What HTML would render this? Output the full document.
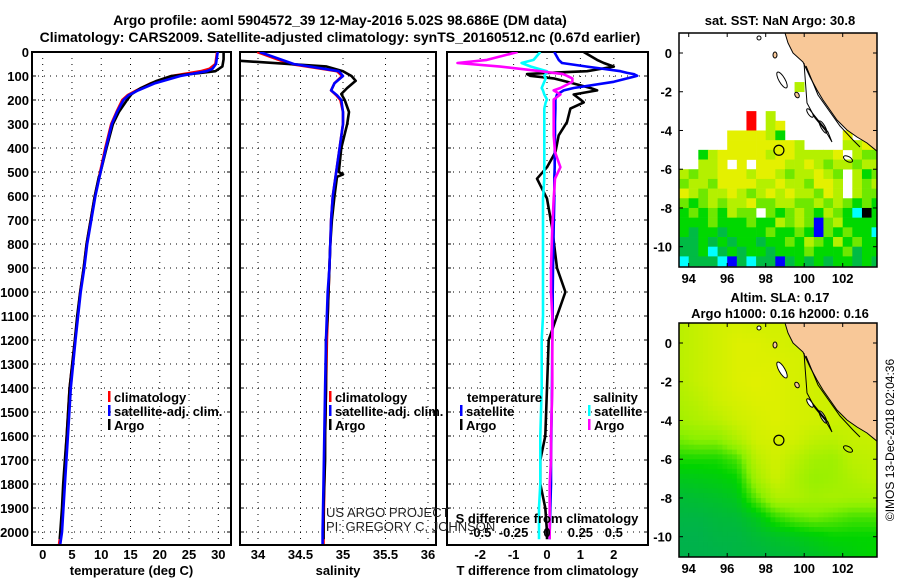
<!DOCTYPE html>
<html><head><meta charset="utf-8">
<style>
html,body{margin:0;padding:0;background:#fff;}
svg{display:block;font-family:"Liberation Sans",sans-serif;}
.b{font-weight:bold;font-size:13px;fill:#000;}
</style></head>
<body>
<svg id="fig" width="900" height="580" viewBox="0 0 900 580" xmlns="http://www.w3.org/2000/svg">
<text class="b" x="340" y="25" text-anchor="middle" style="font-size:14px">Argo profile: aoml 5904572_39 12-May-2016 5.02S 98.686E (DM data)</text>
<text class="b" x="340" y="42" text-anchor="middle" style="font-size:14px">Climatology: CARS2009. Satellite-adjusted climatology: synTS_20160512.nc (0.67d earlier)</text>
<g id="plots"></g>
</svg>
<script>
// ---------- profile data ----------
const depthClim = [0,50,70,80,100,130,160,180,200,250,300,400,500,600,700,800,900,1000,1200,1400,1600,1800,2000,2050];
const tempClim  = [29.8,29.5,28.5,27,22,18.5,16,14.5,13.6,12.6,11.7,10.7,9.8,8.9,8.2,7.5,7.0,6.4,5.5,4.6,4.1,3.6,3.1,2.8];
const tempSat   = [29.9,29.6,29,28,23.5,19.2,16.3,14.7,13.8,12.7,11.8,10.8,9.9,9.0,8.3,7.6,7.1,6.5,5.6,4.8,4.3,3.8,3.3,3.0];
const salClim   = [33.99,34.38,34.75,34.93,34.99,34.9,34.86,34.92,34.97,35.0,35.0,34.96,34.92,34.88,34.86,34.85,34.84,34.83,34.81,34.8,34.79,34.78,34.77,34.77];
const salSat    = [34.02,34.42,34.78,34.95,35.0,34.9,34.86,34.93,34.98,35.0,35.0,34.96,34.92,34.88,34.86,34.85,34.84,34.82,34.8,34.79,34.78,34.77,34.76,34.76];

const depthArgo = [0,30,60,80,90,100,120,150,175,200,250,300,400,500,510,520,600,700,800,900,1000,1100,1200,1400,1600,1700,1800,1900,2000,2030];
const tempArgo  = [30.9,30.9,30.7,29.5,26,22,19.5,16.8,15.2,14.4,13.0,12.0,10.9,9.9,9.8,9.6,8.9,8.2,7.5,7.0,6.4,5.9,5.5,4.6,4.1,3.8,3.5,3.3,3.0,2.9];
const salArgo   = [33.5,33.5,34.8,35.0,35.05,35.1,35.15,35.05,34.98,35.02,35.07,35.05,34.98,34.95,35.0,34.93,34.9,34.87,34.85,34.84,34.83,34.82,34.8,34.8,34.79,34.79,34.78,34.77,34.77,34.77];

const depthDiff = [0,33,46,61,80,87,92,99,110,124,150,160,177,198,210,236,292,347,417,480,528,611,729,900,1000,1100,1200,1400,1600,1700,1800,1900,2000,2030];
const tDiffSat  = [0.22,0.35,0.45,1.2,2.2,2.4,2.6,2.7,2.4,2.0,0.8,0.5,0.3,0.25,0.25,0.25,0.24,0.24,0.23,0.23,0.22,0.22,0.2,0.18,0.17,0.17,0.16,0.15,0.13,0.12,0.12,0.1,0.08,0.08];
const tDiffArgo = [1.1,1.5,1.7,2.0,1.2,0.0,-0.6,-0.5,0.2,0.6,1.3,1.5,0.8,1.0,1.1,0.7,0.6,0.35,0.25,0.0,-0.3,0.0,0.15,0.3,0.55,0.3,0.05,0.0,-0.05,-0.2,-0.2,-0.05,0.0,0.0];
const sDiffSat  = [-0.05,-0.1,-0.19,-0.12,0.0,0.0,-0.01,-0.02,-0.01,-0.02,-0.04,-0.03,-0.02,0.0,-0.01,-0.02,-0.02,-0.02,-0.02,-0.02,-0.02,-0.03,-0.03,-0.03,-0.03,-0.03,-0.04,-0.04,-0.05,-0.05,-0.05,-0.06,-0.06,-0.06];
const sDiffArgo = [-0.22,-0.45,-0.67,-0.35,-0.05,0.05,0.12,0.15,0.19,0.19,0.1,0.05,0.1,0.05,0.05,0.05,0.05,0.05,0.06,0.1,0.06,0.05,0.04,0.03,0.03,0.04,0.04,0.04,0.03,0.03,0.02,0.02,0.02,0.02];

const depthTicks = [0,100,200,300,400,500,600,700,800,900,1000,1100,1200,1300,1400,1500,1600,1700,1800,1900,2000];
const tempTicks = [0,5,10,15,20,25,30];
const salTicks = [34,34.5,35,35.5,36];
const tDiffTicks = [-2,-1,0,1,2];
const sDiffTicks = [-0.5,-0.25,0,0.25,0.5];

// ---------- map data ----------
const latTicks = [0,-2,-4,-6,-8,-10];
const lonTicks = [94,96,98,100,102];
const sstTopLat = -1.5;
const sstRows = [
"............l........",
".....................",
".....................",
".......r.l...........",
".......r.ly..........",
".....yyyylG......y...",
".....yyyyyyyl....llyy",
"..Glyyyyylyylllly.lgg",
"..lly.y.yyyllylgllgll",
"lgllyyylyylgllylg.lGg",
"gllgyyyyllyllgyyl.lgl",
"ylgllylglylyllgyl.lgg",
"gGglgllyggllgglglgGgG",
"GgGgGlgg.gGglgGlgGckG",
"GGGgGGGgGGlglgbglGGGG",
"GDGGDGGGGgGGgGbgGgGGc",
"DDGDGDGGDGGgGlgGlGgGG",
"DDGcDGDGGDGGGgGGGgDGG",
"cDDDcbDcDDbDGDGDGGDGD"];
const slaLats = [1,0,-1,-2,-3,-4,-5,-6,-7,-8,-9,-10,-11];
const slaLons = [93.5,94.5,95.5,96.5,97.5,98.5,99.5,100.5,101.5,102.5,103.5];
const slaGrid = [
[.8,.85,.9,.92,.9,.9,.9,.9,.85,.85,.85],
[.8,.85,.9,.95,.95,.92,.9,.9,.9,.85,.85],
[.8,.85,.9,.95,.95,.95,.92,.9,.9,.85,.85],
[.78,.85,.9,.95,.97,.95,.92,.9,.88,.85,.85],
[.75,.8,.88,.92,.95,.95,.92,.9,.88,.85,.85],
[.7,.75,.8,.88,.92,.95,.92,.9,.88,.85,.85],
[.55,.6,.6,.75,.9,.92,.9,.82,.8,.85,.85],
[.35,.35,.35,.45,.8,.9,.8,.7,.68,.8,.82],
[.2,.22,.25,.3,.7,.88,.75,.65,.68,.75,.8],
[.1,.12,.15,.2,.5,.75,.75,.7,.72,.7,.7],
[.05,.05,.08,.1,.2,.4,.5,.55,.5,.45,.45],
[.02,.02,.05,.05,.1,.15,.2,.25,.3,.3,.3],
[.02,.02,.02,.05,.05,.08,.1,.15,.2,.25,.3]];
const argoLon = 98.686, argoLat = -5.02;

// ---------- helpers ----------
const NS="http://www.w3.org/2000/svg";
const root=document.getElementById('plots');
function el(tag,attrs,parent){const e=document.createElementNS(NS,tag);for(const k in attrs)e.setAttribute(k,attrs[k]);(parent||root).appendChild(e);return e;}
function txt(s,x,y,anchor,parent,size){const t=el('text',{x:x,y:y,'text-anchor':anchor||'middle',class:'b'},parent);if(size)t.style.fontSize=size+'px';t.textContent=s;return t;}
const Y0=52, Y1=545;
const yD = d => Y0 + d*0.24;
function lin(d0,d1,p0,p1){return v=>p0+(v-d0)*(p1-p0)/(d1-d0);}

const panels=[
 {name:'temperature-panel',x0:32,x1:231,sx:lin(0,30,42.7,218.3),ticks:tempTicks,title:'temperature (deg C)'},
 {name:'salinity-panel',x0:240,x1:436,sx:lin(34.5,35,300.5,343),ticks:salTicks,title:'salinity'},
 {name:'difference-panel',x0:447,x1:648,sx:lin(0,1,547,580.4),ticks:tDiffTicks,title:'T difference from climatology'}
];
panels.forEach((p,pi)=>{
  const g=el('g',{});
  
  
  const cp=el('clipPath',{id:'clip'+pi},g);
  el('rect',{x:p.x0,y:Y0,width:p.x1-p.x0,height:Y1-Y0},cp);
  depthTicks.forEach(d=>{
    if(d===0)return;
    const l=el('line',{x1:p.x0,x2:p.x1,y1:yD(d),y2:yD(d),stroke:'#000','stroke-width':1,'stroke-dasharray':'1,5'},g);
    
    
    el('line',{x1:p.x0,x2:p.x0+4,y1:yD(d),y2:yD(d),stroke:'#000'},g);
    el('line',{x1:p.x1-4,x2:p.x1,y1:yD(d),y2:yD(d),stroke:'#000'},g);
  });
  p.ticks.forEach(v=>{
    const x=p.sx(v);
    const l=el('line',{x1:x,x2:x,y1:Y0,y2:Y1,stroke:'#000','stroke-width':1,'stroke-dasharray':'1,5'},g);
    
    
    const t=txt(String(v),x,559,'middle',g);
    
    
  });
  el('rect',{x:p.x0,y:Y0,width:p.x1-p.x0,height:Y1-Y0,fill:'none',stroke:'#000','stroke-width':2},g);
  const tt=txt(p.title,(p.x0+p.x1)/2,575,'middle',g);
  
  
  p.g=g;
});
depthTicks.forEach(d=>{
  const t=txt(String(d),29,yD(d)+5,'end');
  
  
});

function line(p,pi,depths,vals,color,name,sx){
  const f=sx||p.sx;
  const pts=depths.map((d,i)=>f(vals[i]).toFixed(1)+','+yD(d).toFixed(1)).join(' ');
  const l=el('polyline',{points:pts,fill:'none',stroke:color,'stroke-width':2.6,'stroke-linejoin':'round','clip-path':'url(#clip'+pi+')'},p.g);
  
  
}
const P=panels;
line(P[0],0,depthClim,tempClim,'#ff0000','temp-climatology-line');
line(P[0],0,depthArgo,tempArgo,'#000000','temp-argo-line');
line(P[0],0,depthClim,tempSat,'#0000ff','temp-satellite-line');
line(P[1],1,depthClim,salClim,'#ff0000','sal-climatology-line');
line(P[1],1,depthArgo,salArgo,'#000000','sal-argo-line');
line(P[1],1,depthClim,salSat,'#0000ff','sal-satellite-line');
const sxS=lin(0,0.25,547,580.4);
line(P[2],2,depthDiff,tDiffArgo,'#000000','tdiff-argo-line');
line(P[2],2,depthDiff,tDiffSat,'#0000ff','tdiff-satellite-line');
line(P[2],2,depthDiff,sDiffSat,'#00ffff','sdiff-satellite-line',sxS);
line(P[2],2,depthDiff,sDiffArgo,'#ff00ff','sdiff-argo-line',sxS);

sDiffTicks.forEach(v=>{
  const t=txt(String(v),sxS(v),537,'middle',P[2].g);
  
  
});
{const t=txt('S difference from climatology',547,523,'middle',P[2].g);

}

function legend(x,y,color,label,name,parent){
  const g=el('g',{},parent);
  
  
  el('rect',{x:x,y:y-6,width:2.5,height:11,fill:color},g);
  txt(label,x+6,y+5,'start',g);
}
legend(108,397,'#ff0000','climatology','legend-climatology',P[0].g);
legend(108,411,'#0000ff','satellite-adj. clim.','legend-satellite',P[0].g);
legend(108,425,'#000000','Argo','legend-argo',P[0].g);
legend(329,397,'#ff0000','climatology','legend-climatology',P[1].g);
legend(329,411,'#0000ff','satellite-adj. clim.','legend-satellite',P[1].g);
legend(329,425,'#000000','Argo','legend-argo',P[1].g);
{const t=txt('temperature',467,402,'start',P[2].g);}
{const t=txt('salinity',593,402,'start',P[2].g);}
legend(460,411,'#0000ff','satellite','legend-t-satellite',P[2].g);
legend(460,425,'#000000','Argo','legend-t-argo',P[2].g);
legend(588,411,'#00ffff','satellite','legend-s-satellite',P[2].g);
legend(588,425,'#ff00ff','Argo','legend-s-argo',P[2].g);
{const g=el('g',{});
 const a=el('text',{x:326,y:517,'font-size':13,fill:'#222'},g);a.textContent='US ARGO PROJECT';
 const b=el('text',{x:326,y:531,'font-size':13,fill:'#222'},g);b.textContent='PI: GREGORY C. JOHNSON';}

// ---------- maps ----------
const mx0=679, mx1=877;
const lonX=lin(94,102,688.7,842.7);
function makeMap(oy,name){
  const g=el('g',{});
  
  
  const top=33+oy, bot=267+oy;
  const latY=lin(0,-10,53+oy,246.7+oy);
  const cp=el('clipPath',{id:'mc'+oy},g);
  el('rect',{x:mx0,y:top,width:mx1-mx0,height:bot-top},cp);
  const inner=el('g',{'clip-path':'url(#mc'+oy+')'},g);
  return {g,inner,top,bot,latY};
}
function finishMap(m,oy){
  const g=m.g, inner=m.inner;
  const land=[[125,33],[128,43],[133,53],[143,62],[150,77],[157,90],[163,100],[170,110],[177,120],[187,130],[197,137],[207,143],[218,152],[218,33]];
  const lp=el('polygon',{points:land.map(p=>(660+p[0])+','+(p[1]+oy)).join(' '),fill:'#f8c898',stroke:'#000','stroke-width':1},inner);
  
  
  [[122,80,3,9,-30,'#fff'],[115,55,2,3,0,'#f8c898'],[137,95,2,3,-30,'#f8c898'],[150,113,2,5,-35,'#fff'],[163,127,2,7,-30,'#fff'],[99,38,2,2,0,'#fff']].forEach(e=>{
    const il=el('ellipse',{cx:660+e[0],cy:e[1]+oy,rx:e[2],ry:e[3],transform:`rotate(${e[4]} ${660+e[0]} ${e[1]+oy})`,fill:e[5],stroke:'#000','stroke-width':1},inner);
    
    
  });
  el('polyline',{points:[[144,63],[147,103],[155,118],[165,130],[172,142],[168,132],[158,120],[150,110]].map(p=>(660+p[0])+','+(p[1]+oy)).join(' '),fill:'none',stroke:'#000','stroke-width':1},inner);
  el('polyline',{points:[[146,66],[158,95],[170,112],[180,126],[193,140],[200,147]].map(p=>(660+p[0])+','+(p[1]+oy)).join(' '),fill:'none',stroke:'#000','stroke-width':1},inner);
  el('ellipse',{cx:660+188,cy:159+oy,rx:5,ry:2.5,transform:`rotate(30 ${848} ${159+oy})`,fill:'none',stroke:'#000'},inner);
  const c=el('circle',{cx:lonX(argoLon),cy:m.latY(argoLat),r:5,fill:'none',stroke:'#000','stroke-width':1.2},inner);
  
  
  el('rect',{x:mx0,y:m.top,width:mx1-mx0,height:m.bot-m.top,fill:'none',stroke:'#000','stroke-width':1.5},g);
  latTicks.forEach(v=>{
    const y=m.latY(v);
    el('line',{x1:mx0,x2:mx0+4,y1:y,y2:y,stroke:'#000'},g);
    el('line',{x1:mx1-4,x2:mx1,y1:y,y2:y,stroke:'#000'},g);
    const t=txt(String(v),672,y+5,'end',g);
    
    
  });
  lonTicks.forEach(v=>{
    const x=lonX(v);
    el('line',{x1:x,x2:x,y1:m.top,y2:m.top+4,stroke:'#000'},g);
    el('line',{x1:x,x2:x,y1:m.bot-4,y2:m.bot,stroke:'#000'},g);
    const t=txt(String(v),x,m.bot+16,'middle',g);
    
    
  });
}
const sstColors={y:'#e4f000',l:'#b4f000',g:'#6ee800',G:'#00d800',D:'#00bb44',c:'#00ffff',b:'#0000ff',r:'#ff0000',k:'#000000'};
const m1=makeMap(0,'sst-map');
{const t=txt('sat. SST: NaN Argo: 30.8',780,25,'middle',m1.g);}
const lonW=lonX(94.5)-lonX(94);
sstRows.forEach((row,ri)=>{
  const lat=sstTopLat-0.5*ri;
  for(let ci=0;ci<row.length;ci++){
    const ch=row[ci]; if(ch==='.')continue;
    const lon=93.5+0.5*ci;
    const y=m1.latY(lat), h=m1.latY(lat-0.5)-y;
    const r=el('rect',{x:lonX(lon),y:y,width:lonW+0.3,height:h+0.3,fill:sstColors[ch]},m1.inner);
    
    
  }
});
finishMap(m1,0);

const m2=makeMap(290,'sla-map');
{const t=txt('Altim. SLA: 0.17',780,302,'middle',m2.g);}
{const t=txt('Argo h1000: 0.16 h2000: 0.16',780,318,'middle',m2.g);}
function slaColor(v){
  const stops=[[0,[0,176,80]],[0.3,[0,212,0]],[0.6,[140,240,0]],[1,[232,240,0]]];
  for(let i=1;i<stops.length;i++){if(v<=stops[i][0]){const a=stops[i-1],b=stops[i];const t=(v-a[0])/(b[0]-a[0]);
    return 'rgb('+a[1].map((c,k)=>Math.round(c+(b[1][k]-c)*t)).join(',')+')';}}
  return 'rgb(232,240,0)';
}
function slaAt(lon,lat){
  let fx=(lon-slaLons[0]); fx=Math.max(0,Math.min(slaLons.length-1.001,fx));
  let fy=(slaLats[0]-lat); fy=Math.max(0,Math.min(slaLats.length-1.001,fy));
  const i=Math.floor(fx),j=Math.floor(fy),tx=fx-i,ty=fy-j;
  const a=slaGrid[j][i],b=slaGrid[j][i+1],c=slaGrid[j+1][i],d=slaGrid[j+1][i+1];
  return a*(1-tx)*(1-ty)+b*tx*(1-ty)+c*(1-tx)*ty+d*tx*ty;
}
for(let lat=1.25;lat>-11.25;lat-=0.25){
  for(let lon=93.25;lon<104;lon+=0.25){
    const v=slaAt(lon+0.125,lat-0.125);
    const y=m2.latY(lat),h=m2.latY(lat-0.25)-y;
    const r=el('rect',{x:lonX(lon),y:y,width:lonW/2+0.4,height:h+0.4,fill:slaColor(v)},m2.inner);
    
    
  }
}
finishMap(m2,290);
{const t=el('text',{x:0,y:0,'font-size':12,fill:'#000','text-anchor':'middle',transform:'translate(894,440) rotate(-90)'});
 t.textContent='©IMOS 13-Dec-2018 02:04:36';
 
 }
</script>
</body></html>
